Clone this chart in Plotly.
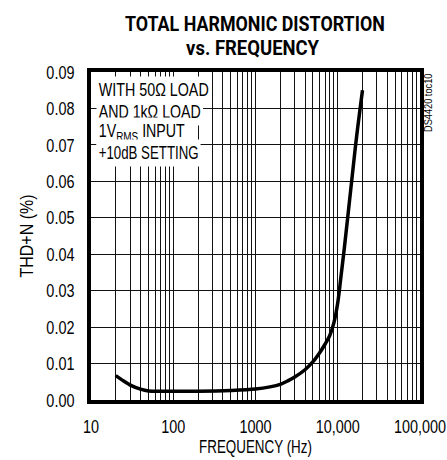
import plotly.graph_objects as go

freq_hz = [20, 25, 30, 40, 50, 70, 100, 200, 500, 1000, 1500, 2000, 2500, 3000, 4000,
           5000, 6000, 7000, 8000, 9000, 10000, 11000, 12000, 15000, 17000, 20000]
thd_pct = [0.0067, 0.0052, 0.0041, 0.0030, 0.0025, 0.0024, 0.0024, 0.0024, 0.0026,
           0.0030, 0.0036, 0.0043, 0.0053, 0.0063, 0.0083, 0.0105, 0.0129, 0.0153, 0.0177,
           0.0213, 0.0267, 0.0343, 0.0415, 0.0615, 0.0725, 0.0850]

decades = [10, 100, 1000, 10000, 100000]
decade_labels = ["10", "100", "1000", "10,000", "100,000"]
y_ticks = [0.00, 0.01, 0.02, 0.03, 0.04, 0.05, 0.06, 0.07, 0.08, 0.09]
y_labels = ["0.00", "0.01", "0.02", "0.03", "0.04", "0.05", "0.06", "0.07", "0.08", "0.09"]

title_lines = ["TOTAL HARMONIC DISTORTION", "vs. FREQUENCY"]
note_lines = ["WITH 50Ω LOAD", "AND 1kΩ LOAD", "1V<sub>RMS</sub> INPUT", "+10dB SETTING"]
side_note = "DS4420 toc10"

minor_vals = [d * m for d in decades[:-1] for m in range(2, 10)]

FONT = "Liberation Sans, Arial, sans-serif"
TFONT = "Roboto, Liberation Sans, Arial, sans-serif"

L, R, T, B = 91, 27, 72, 60
PW, PH = 447 - L - R, 460 - T - B


def px_x(x):
    return (x - L) / PW


def px_y(y):
    return (460 - B - y) / PH


fig = go.Figure()
fig.add_trace(go.Scatter(x=freq_hz, y=thd_pct, mode="lines",
                         line=dict(color="black", width=3.5, shape="spline", smoothing=1.0),
                         showlegend=False, hoverinfo="skip"))

fig.update_layout(
    width=447, height=460,
    margin=dict(l=L, r=R, t=T, b=B, autoexpand=False),
    paper_bgcolor="white", plot_bgcolor="white",
    font=dict(family=FONT, size=19, color="black"),
    xaxis=dict(type="log", range=[1, 5], tickmode="array", tickvals=decades, ticktext=decade_labels,
               showgrid=True, gridcolor="#111", gridwidth=1,
               minor=dict(tickmode="array", tickvals=minor_vals, showgrid=True,
                          gridcolor="#111", gridwidth=1, ticks=""),
               showline=True, linecolor="black", linewidth=3.5, mirror=True,
               ticks="", zeroline=False, ticklabeloverflow="allow",
               ticklabelstandoff=6,
               title=dict(text="FREQUENCY (Hz)", standoff=6, font=dict(size=18)),
               tickfont=dict(size=19)),
    yaxis=dict(range=[0, 0.09], tickvals=y_ticks, ticktext=y_labels,
               showgrid=True, gridcolor="#111", gridwidth=1,
               showline=True, linecolor="black", linewidth=3.5, mirror=True,
               ticks="", zeroline=False, ticklabelstandoff=9,
               title=dict(text="THD+N (%)", standoff=0, font=dict(size=17.5)),
               tickfont=dict(size=19)),
)

fig.add_annotation(text="<b>" + title_lines[0] + "</b>", xref="paper", yref="paper",
                   x=px_x(254.5), y=px_y(24), xanchor="center", yanchor="middle",
                   showarrow=False, font=dict(family=TFONT, size=21, weight=900, color="black"))
fig.add_annotation(text="<b>" + title_lines[1] + "</b>", xref="paper", yref="paper",
                   x=px_x(252.7), y=px_y(48.3), xanchor="center", yanchor="middle",
                   showarrow=False, font=dict(family=TFONT, size=21, weight=900, color="black"))

note_y = [90, 111.7, 132.2, 153.3]
for txt, yy in zip(note_lines, note_y):
    fig.add_annotation(text=txt, xref="paper", yref="paper", x=px_x(96), y=px_y(yy),
                       xanchor="left", yanchor="middle", align="left", showarrow=False,
                       bgcolor="white", borderpad=2.5,
                       font=dict(family=FONT, size=18.5, color="black"))

fig.add_annotation(text=side_note, xref="paper", yref="paper", x=px_x(429), y=px_y(102.5),
                   xanchor="center", yanchor="middle", textangle=-90, showarrow=False,
                   font=dict(family=FONT, size=10, color="black"))

post = r"""
(function(){
  document.documentElement.style.margin = '0';
  document.body.style.margin = '0';
  document.body.style.overflow = 'hidden';
  var gd = document.getElementById('{plot_id}');
  var annTargets = {0: 260, 1: 133, 2: 110, 3: 102, 4: 86, 5: 100, 6: 59};
  function squeeze(el, s, mode){
    var b = el.getBBox();
    var px = mode === 'start' ? b.x : (mode === 'end' ? b.x + b.width : b.x + b.width / 2);
    var py = b.y + b.height / 2;
    var t = el.getAttribute('transform') || '';
    el.setAttribute('transform', t + ' translate(' + px + ',' + py + ') scale(' + s + ',1) translate(' + (-px) + ',' + (-py) + ')');
    el.setAttribute('data-sq', '1');
  }
  function run(){
    gd.querySelectorAll('g.xtick text, g.ytick text').forEach(function(el){
      if (el.getAttribute('data-sq')) return;
      var a = el.getAttribute('text-anchor') || 'middle';
      squeeze(el, 0.76, a === 'end' ? 'end' : (a === 'start' ? 'start' : 'middle'));
    });
    gd.querySelectorAll('text.xtitle').forEach(function(el){
      if (el.getAttribute('data-sq')) return;
      squeeze(el, 113 / el.getBBox().width, 'middle');
    });
    gd.querySelectorAll('text.ytitle').forEach(function(el){
      if (el.getAttribute('data-sq')) return;
      squeeze(el, 83 / el.getBBox().width, 'middle');
    });
    gd.querySelectorAll('g.annotation').forEach(function(g){
      var idx = parseInt(g.getAttribute('data-index'));
      var grp = g.querySelector('g.annotation-text-g');
      var txt = g.querySelector('text.annotation-text');
      if (!grp || !txt || grp.getAttribute('data-sq')) return;
      var target = annTargets[idx];
      if (!target) return;
      var s = target / txt.getBBox().width;
      squeeze(grp, s, (idx >= 2 && idx <= 5) ? 'start' : 'middle');
    });
  }
  run();
  if (gd.on) gd.on('plotly_afterplot', run);
})();
"""

fig.write_html("out.html", post_script=post, config={"displayModeBar": False})
